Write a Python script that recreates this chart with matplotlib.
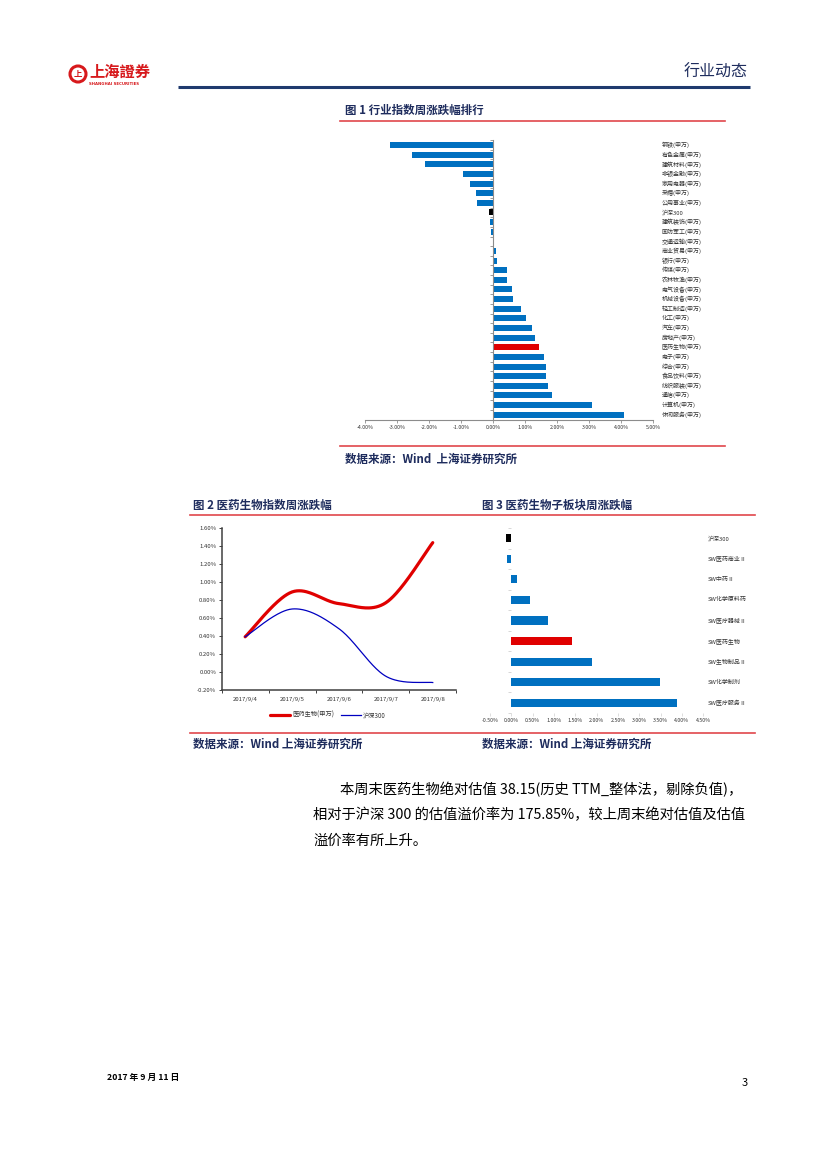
import numpy as np
import matplotlib
matplotlib.use("Agg")
import matplotlib.pyplot as plt
from matplotlib.patches import Circle
from matplotlib.ticker import FixedLocator, FuncFormatter

plt.rcParams['font.family'] = ['Noto Sans CJK SC', 'DejaVu Sans']
plt.rcParams['axes.unicode_minus'] = False

# ---------------- data ----------------
industries = ["钢铁(申万)", "有色金属(申万)", "建筑材料(申万)", "非银金融(申万)", "家用电器(申万)",
              "采掘(申万)", "公用事业(申万)", "沪深300", "建筑装饰(申万)", "国防军工(申万)",
              "交通运输(申万)", "商业贸易(申万)", "银行(申万)", "传媒(申万)", "农林牧渔(申万)",
              "电气设备(申万)", "机械设备(申万)", "轻工制造(申万)", "化工(申万)", "汽车(申万)",
              "房地产(申万)", "医药生物(申万)", "电子(申万)", "综合(申万)", "食品饮料(申万)",
              "纺织服装(申万)", "通信(申万)", "计算机(申万)", "休闲服务(申万)"]
industry_chg = [-3.23, -2.54, -2.11, -0.95, -0.71, -0.53, -0.50, -0.11, -0.09, -0.06,
                0.04, 0.08, 0.14, 0.45, 0.45, 0.58, 0.64, 0.86, 1.04, 1.23,
                1.32, 1.45, 1.60, 1.66, 1.66, 1.73, 1.85, 3.09, 4.08]
fig1_ticks = [-4, -3, -2, -1, 0, 1, 2, 3, 4, 5]

dates = ["2017/9/4", "2017/9/5", "2017/9/6", "2017/9/7", "2017/9/8"]
pharma_cum = [0.39, 0.89, 0.76, 0.77, 1.44]
hs300_cum = [0.39, 0.70, 0.48, -0.05, -0.12]
fig2_yticks = [-0.2, 0.0, 0.2, 0.4, 0.6, 0.8, 1.0, 1.2, 1.4, 1.6]

sectors = ["沪深300", "SW医药商业Ⅱ", "SW中药Ⅱ", "SW化学原料药", "SW医疗器械Ⅱ",
           "SW医药生物", "SW生物制品Ⅱ", "SW化学制剂", "SW医疗服务Ⅱ"]
sector_chg = [-0.13, -0.10, 0.14, 0.43, 0.87, 1.43, 1.88, 3.49, 3.88]
fig3_ticks = [-0.5, 0.0, 0.5, 1.0, 1.5, 2.0, 2.5, 3.0, 3.5, 4.0, 4.5]

BLUE = '#0070C0'
RED = '#E00000'
NAVY = '#1F2D5E'
LINE_RED = '#E0474C'

W, H = 827, 1169
fig = plt.figure(figsize=(W / 100, H / 100), dpi=100)
fig.patch.set_facecolor('white')

page = fig.add_axes([0, 0, 1, 1])
page.set_xlim(0, W)
page.set_ylim(H, 0)
page.axis('off')


def px_axes(left, top, right, bottom):
    return fig.add_axes([left / W, 1 - bottom / H, (right - left) / W, (bottom - top) / H])


def bar_colors(labels, highlight):
    cols = []
    for lab in labels:
        if lab == "沪深300":
            cols.append('black')
        elif lab == highlight:
            cols.append(RED)
        else:
            cols.append(BLUE)
    return cols

# ---------------- page decorations ----------------
page.add_patch(Circle((78, 74), 8, fill=False, edgecolor='#D7191C', lw=2.2))
page.text(78, 74.5, "上", color='#D7191C', fontsize=6, fontweight='bold', ha='center', va='center')
page.text(89, 72, "上海證券", color='#D7191C', fontsize=11, fontweight='bold', ha='left', va='center')
page.text(89, 84, "SHANGHAI SECURITIES", color='#D7191C', fontsize=2.8, fontweight='bold',
          ha='left', va='center', family='DejaVu Sans')
page.text(748, 72, "行业动态", color=NAVY, fontsize=11.5, ha='right', va='center')
page.plot([178, 750], [87, 87], color='#1F3A6E', lw=2.2, solid_capstyle='butt')

page.text(345, 110, "图 1 行业指数周涨跌幅排行", color=NAVY, fontsize=8.3, fontweight='bold',
          ha='left', va='center')
page.plot([340, 725], [121, 121], color=LINE_RED, lw=1.2)
page.plot([340, 725], [446, 446], color=LINE_RED, lw=1.2)
page.text(345, 459, "数据来源：Wind  上海证券研究所", color=NAVY, fontsize=8.3, fontweight='bold',
          style='italic', ha='left', va='center')

page.text(193, 505, "图 2 医药生物指数周涨跌幅", color=NAVY, fontsize=8.3, fontweight='bold',
          ha='left', va='center')
page.text(482, 505, "图 3 医药生物子板块周涨跌幅", color=NAVY, fontsize=8.3, fontweight='bold',
          ha='left', va='center')
page.plot([190, 755], [515, 515], color=LINE_RED, lw=1.2)
page.plot([190, 755], [733, 733], color=LINE_RED, lw=1.2)
page.text(193, 744, "数据来源：Wind 上海证券研究所", color=NAVY, fontsize=8.3, fontweight='bold',
          style='italic', ha='left', va='center')
page.text(482, 744, "数据来源：Wind 上海证券研究所", color=NAVY, fontsize=8.3, fontweight='bold',
          style='italic', ha='left', va='center')

body = [(340, 790, "本周末医药生物绝对估值 38.15(历史 TTM_整体法，剔除负值)，"),
        (313, 815, "相对于沪深 300 的估值溢价率为 175.85%，较上周末绝对估值及估值"),
        (313, 841, "溢价率有所上升。")]
for x, y, s in body:
    page.text(x, y, s, color='black', fontsize=10.3, ha='left', va='center')

page.text(107, 1077, "2017 年 9 月 11 日", color='black', fontsize=6.3, fontweight='bold',
          ha='left', va='center')
page.text(745, 1083, "3", color='black', fontsize=8, ha='center', va='center')

# ---------------- Figure 1 ----------------
ax1 = px_axes(365, 140.2, 653, 419.5)
n1 = len(industries)
y1 = np.arange(n1)
ax1.barh(y1, industry_chg, height=0.62, color=bar_colors(industries, "医药生物(申万)"), zorder=2)
ax1.set_ylim(n1 - 0.5, -0.5)
ax1.set_xlim(fig1_ticks[0], fig1_ticks[-1])
for s in ['top', 'right']:
    ax1.spines[s].set_visible(False)
ax1.spines['left'].set_position(('data', 0))
ax1.spines['left'].set_color('#8C8C8C')
ax1.spines['left'].set_linewidth(0.8)
ax1.spines['left'].set_zorder(3)
ax1.spines['bottom'].set_color('#8C8C8C')
ax1.spines['bottom'].set_linewidth(0.8)
ax1.yaxis.set_major_locator(FixedLocator(np.arange(-0.5, n1, 1)))
ax1.tick_params(axis='y', length=2, width=0.6, color='#8C8C8C', labelleft=False)
ax1.xaxis.set_major_locator(FixedLocator(fig1_ticks))
ax1.xaxis.set_major_formatter(FuncFormatter(lambda v, p: f"{v:.2f}%"))
ax1.tick_params(axis='x', length=2, width=0.6, color='#8C8C8C', labelsize=3.8,
                labelcolor='#333333', pad=2)
for i, lab in enumerate(industries):
    ax1.text(1.03, i, lab, transform=ax1.get_yaxis_transform(), fontsize=4.3,
             color='#333333', ha='left', va='center')

# ---------------- Figure 2 ----------------
ax2 = px_axes(221.7, 528.3, 456.2, 689.7)
xs = np.arange(len(dates))
sx, sy = 46.9, 89.7   # pixel scale for smoothing (Excel-style smoothed line)


def smooth(xv, yv, n=40):
    px = np.asarray(xv, float) * sx
    py = np.asarray(yv, float) * sy
    pts = np.column_stack([px, py])
    ext = np.vstack([pts[0], pts, pts[-1]])
    out = []
    for i in range(len(pts) - 1):
        p0, p1, p2, p3 = ext[i], ext[i + 1], ext[i + 2], ext[i + 3]
        c1 = p1 + (p2 - p0) / 6.0
        c2 = p2 - (p3 - p1) / 6.0
        t = np.linspace(0, 1, n)[:, None]
        seg = ((1 - t) ** 3) * p1 + 3 * ((1 - t) ** 2) * t * c1 + 3 * (1 - t) * t ** 2 * c2 + t ** 3 * p2
        out.append(seg if i == 0 else seg[1:])
    c = np.vstack(out)
    return c[:, 0] / sx, c[:, 1] / sy


rx, ry = smooth(xs, pharma_cum)
bx, by = smooth(xs, hs300_cum)
ax2.plot(rx, ry, color=RED, lw=2.3, label="医药生物(申万)", zorder=3, solid_capstyle='round')
ax2.plot(bx, by, color='#0000C0', lw=0.9, label="沪深300", zorder=3)
ax2.set_xlim(-0.5, len(dates) - 0.5)
ax2.set_ylim(fig2_yticks[0], fig2_yticks[-1])
for s in ['top', 'right']:
    ax2.spines[s].set_visible(False)
for s in ['left', 'bottom']:
    ax2.spines[s].set_color('#404040')
    ax2.spines[s].set_linewidth(1.1)
ax2.set_yticks(fig2_yticks)
ax2.yaxis.set_major_formatter(FuncFormatter(lambda v, p: f"{v:.2f}%"))
ax2.tick_params(axis='y', length=2, width=0.7, color='#404040', labelsize=4.3,
                labelcolor='#333333', pad=2)
ax2.set_xticks(xs)
ax2.set_xticklabels(dates)
ax2.set_xticks(np.arange(-0.5, len(dates), 1), minor=True)
ax2.tick_params(axis='x', which='major', length=0, labelsize=4.3, labelcolor='#333333', pad=5)
ax2.tick_params(axis='x', which='minor', length=2, width=0.7, color='#404040')
ax2.legend(loc='center', bbox_to_anchor=(328 / W, 1 - 715 / H), bbox_transform=fig.transFigure,
           ncol=2, frameon=False, fontsize=4.5, handlelength=3.2, handletextpad=0.4,
           columnspacing=1.0, labelcolor='#333333')

# ---------------- Figure 3 ----------------
ax3 = px_axes(490, 528, 703.3, 713)
n3 = len(sectors)
y3 = np.arange(n3)
ax3.barh(y3, sector_chg, height=0.39, color=bar_colors(sectors, "SW医药生物"), zorder=2)
ax3.set_ylim(n3 - 0.5, -0.5)
ax3.set_xlim(fig3_ticks[0], fig3_ticks[-1])
for s in ax3.spines.values():
    s.set_visible(False)
ax3.spines['left'].set_position(('data', 0))
ax3.yaxis.set_major_locator(FixedLocator(np.arange(-0.5, n3, 1)))
ax3.tick_params(axis='y', length=2, width=0.5, color='#C8C8C8', labelleft=False)
ax3.xaxis.set_major_locator(FixedLocator(fig3_ticks))
ax3.xaxis.set_major_formatter(FuncFormatter(lambda v, p: f"{v:.2f}%"))
ax3.tick_params(axis='x', length=2, width=0.5, color='#D0D0D0', labelsize=3.8,
                labelcolor='#333333', pad=1.5)
for i, lab in enumerate(sectors):
    ax3.text(1.02, i, lab, transform=ax3.get_yaxis_transform(), fontsize=4.3,
             color='#333333', ha='left', va='center')

fig.savefig("out.png", dpi=100, facecolor='white')
